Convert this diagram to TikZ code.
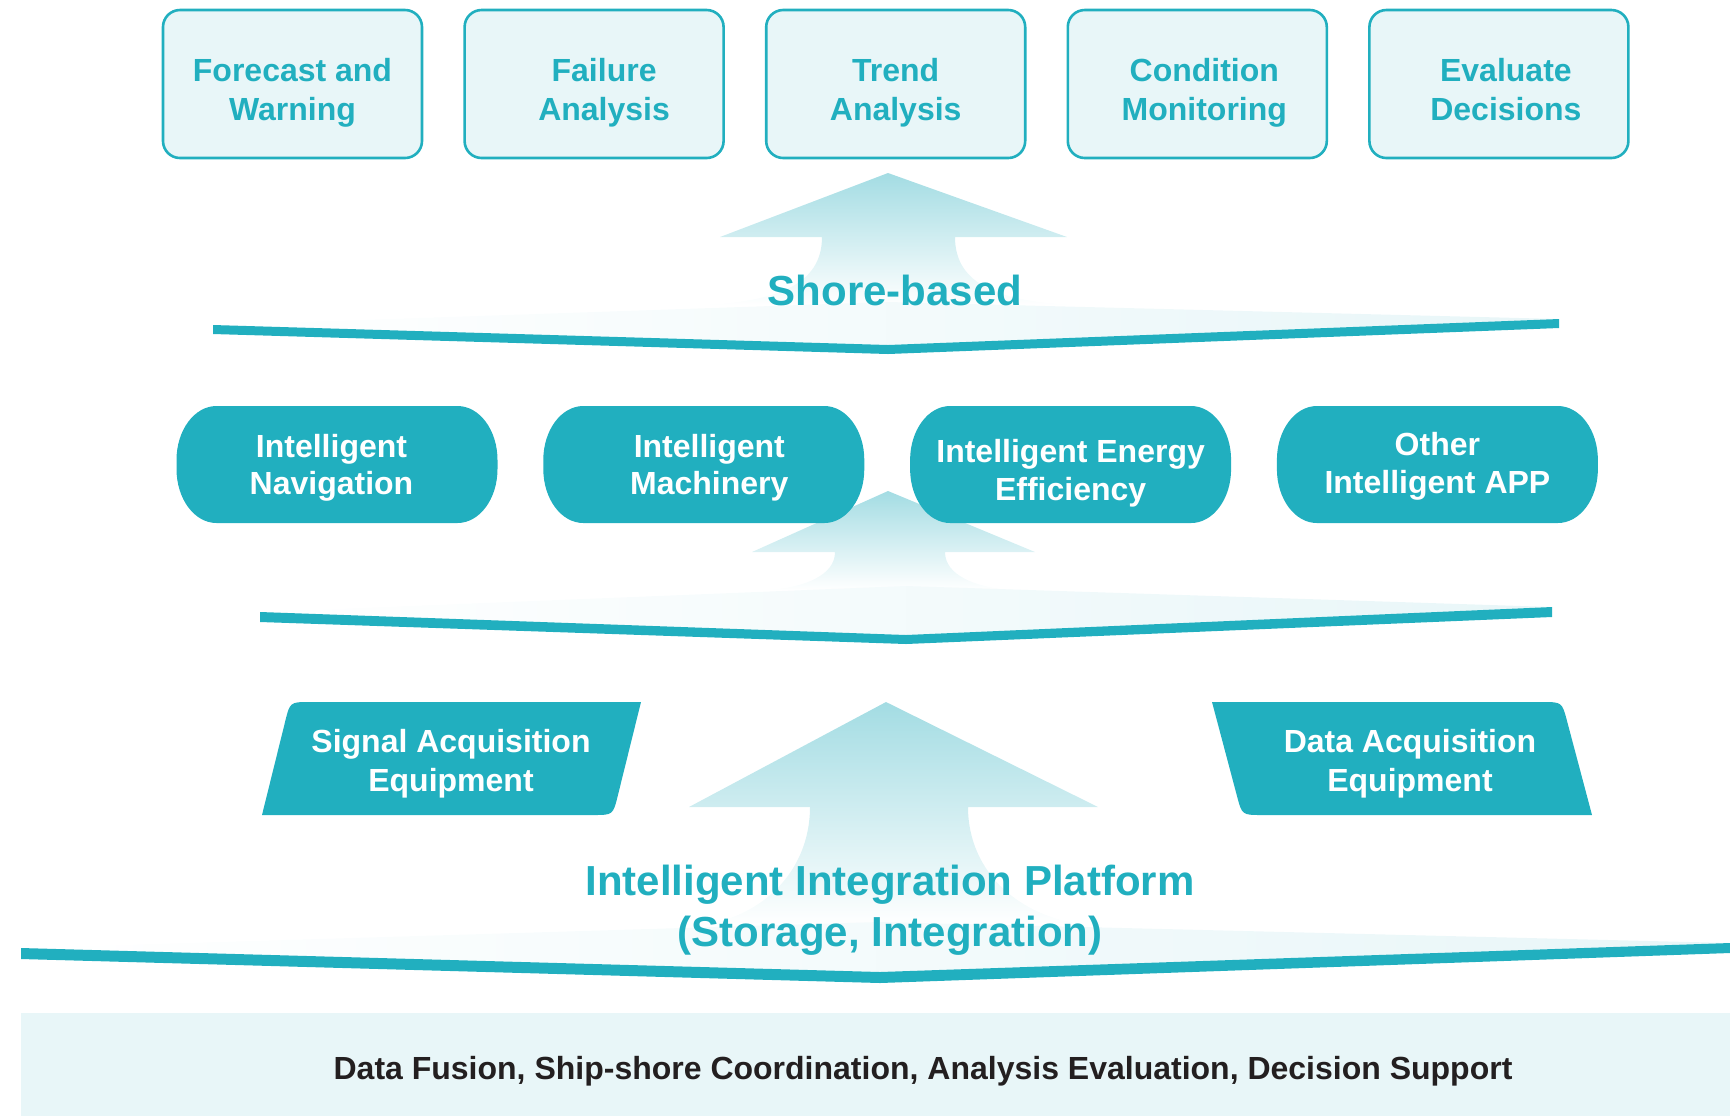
\documentclass[tikz,border=0pt]{standalone}
\usepackage{fontspec}
\setmainfont{Liberation Sans}
\usepackage{tikz}
\usetikzlibrary{positioning}
\definecolor{appteal}{HTML}{21AFBF}
\definecolor{boxfill}{HTML}{E8F6F8}
\definecolor{arrowtop}{HTML}{A3DCE3}
\definecolor{captionblack}{HTML}{231F20}

\begin{document}
\begin{tikzpicture}[x=0.5pt,y=0.5pt,
    topbox/.style={draw=appteal, line width=1.3pt, fill=boxfill, rounded corners=8.5pt,
        minimum width=129.5pt, minimum height=74pt, text=appteal, align=center,
        font=\fontsize{16}{19.3}\selectfont\bfseries,
        text height=41pt, text depth=5pt},
    pill/.style={minimum width=160.5pt, minimum height=58.5pt, inner sep=0pt, text=white, align=center,
        font=\fontsize{16}{18.8}\selectfont\bfseries,
        text height=#1, text depth=3.4pt,
        path picture={
            \fill[appteal] ([xshift=20pt]path picture bounding box.south west)
                -- ([xshift=-20pt]path picture bounding box.south east)
                arc[start angle=270, end angle=360, x radius=20pt, y radius=27pt]
                -- ([yshift=-27pt]path picture bounding box.north east)
                arc[start angle=0, end angle=90, x radius=20pt, y radius=27pt]
                -- ([xshift=20pt]path picture bounding box.north west)
                arc[start angle=90, end angle=180, x radius=20pt, y radius=27pt]
                -- ([yshift=27pt]path picture bounding box.south west)
                arc[start angle=180, end angle=270, x radius=20pt, y radius=27pt]
                -- cycle;
        }},
    pill/.default=33.8pt,
    equiptext/.style={text=white, align=center, font=\fontsize{16}{19.5}\selectfont\bfseries},
    biglabel/.style={text=appteal, align=center, font=\fontsize{21}{25.4}\selectfont\bfseries},
    uparrow/.style={top color=arrowtop, bottom color=white},
    platform/.style={left color=white, right color=boxfill},
    bar/.style={fill=appteal}]
    \useasboundingbox (0,0) rectangle (1730,-1116);

    \fill[boxfill] (21,-1013) rectangle (1730,-1116);
    \node[text=captionblack, font=\fontsize{16}{19}\selectfont\bfseries] (support) at (923,-1071)
        {Data Fusion, Ship-shore Coordination, Analysis Evaluation, Decision Support};

    % big arrows
    \shade[uparrow] (886,-702) -- (1098,-807) -- (968,-807)
        .. controls (968,-872) and (1020,-922) .. (1100,-926) -- (690,-926)
        .. controls (760,-922) and (810,-872) .. (810,-807) -- (689,-807) -- cycle;
    \shade[uparrow] (888,-491) -- (1035,-552) -- (945,-552)
        .. controls (945,-575) and (975,-588) .. (1015,-590) -- (765,-590)
        .. controls (805,-588) and (835,-575) .. (835,-552) -- (752,-552) -- cycle;
    \shade[uparrow] (888,-173) -- (1067,-237) -- (955,-237)
        .. controls (955,-285) and (1000,-302) .. (1078,-305) -- (700,-305)
        .. controls (776,-302) and (822,-285) .. (822,-237) -- (720,-237) -- cycle;

    % platforms
    \shade[platform] (213,-325) -- (888,-302) -- (1559,-319) -- (888,-346) -- cycle;
    \fill[bar] (213,-325) -- (888,-345) -- (1559,-319) -- (1559,-328) -- (888,-354) -- (213,-334) -- cycle;
    \shade[platform] (260,-612) -- (906,-586) -- (1552,-607) -- (906,-636) -- cycle;
    \fill[bar] (260,-612) -- (906,-635) -- (1552,-607) -- (1552,-617) -- (906,-644) -- (260,-622) -- cycle;
    \shade[platform] (21,-948) -- (880,-922) -- (1730,-943) -- (880,-972) -- cycle;
    \fill[bar] (21,-948) -- (880,-972) -- (1730,-943) -- (1730,-953) -- (880,-983) -- (21,-959) -- cycle;

    \node[topbox] (forecast) at (292.5,-84) {Forecast and\\Warning};
    \node[topbox, right=20pt of forecast] (failure) {\hspace*{10pt}Failure\\\hspace*{10pt}Analysis};
    \node[topbox, right=20pt of failure] (trend) {Trend\\Analysis};
    \node[topbox, right=20pt of trend] (condition) {\hspace*{7pt}Condition\\\hspace*{7pt}Monitoring};
    \node[topbox, right=20pt of condition] (evaluate) {\hspace*{7pt}Evaluate\\\hspace*{7pt}Decisions};

    \node[biglabel] (shore) at (895,-290) {Shore-based};

    \node[pill] (navigation) at (337,-464.5) {\hspace*{-5.5pt}Intelligent\\\hspace*{-5.5pt}Navigation};
    \node[pill, right=22.5pt of navigation] (machinery) {\hspace*{5.5pt}Intelligent\\\hspace*{5.5pt}Machinery};
    \node[pill=39.3pt, right=22.5pt of machinery] (energy) {Intelligent Energy\\Efficiency};
    \node[pill=32.1pt, right=22.5pt of energy] (otherapp) {Other\\Intelligent APP};

    \fill[appteal] (641,-702) -- (617.8,-795.6) .. controls (613,-815) .. (593,-815)
        -- (262,-815) -- (285.2,-721.4) .. controls (290,-702) .. (310,-702) -- cycle;
    \node[equiptext] (signal) at (451,-763.5) {Signal Acquisition\\Equipment};
    \fill[appteal] (1212,-702) -- (1542,-702) .. controls (1562,-702) .. (1567.1,-721.3)
        -- (1592,-815) -- (1262,-815) .. controls (1242,-815) .. (1236.9,-795.7) -- cycle;
    \node[equiptext] (dataacq) at (1410,-763.5) {Data Acquisition\\Equipment};

    \node[biglabel] (integration) at (890,-910) {Intelligent Integration Platform\\(Storage, Integration)};
\end{tikzpicture}
\end{document}
